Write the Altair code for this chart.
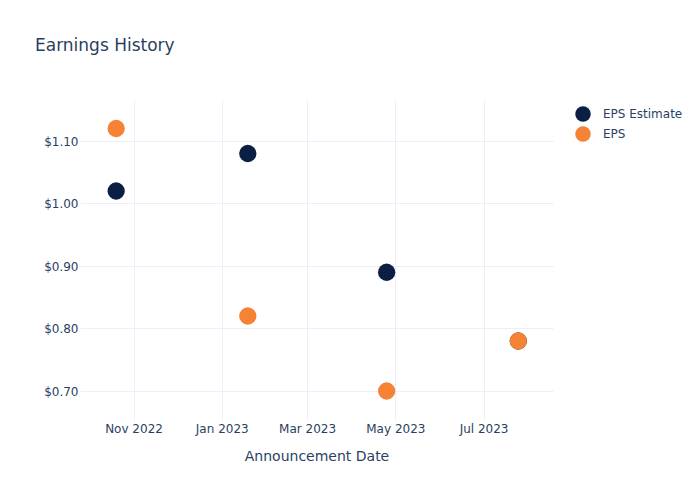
import altair as alt
import pandas as pd

dates = ["2022-10-20", "2023-01-19", "2023-04-25", "2023-07-25"]
eps_estimate = [1.02, 1.08, 0.89, 0.78]
eps_actual = [1.12, 0.82, 0.70, 0.78]
series_names = ["EPS Estimate", "EPS"]
colors = ["#0b1f44", "#f58235"]
x_ticks = ["2022-11-01", "2023-01-01", "2023-03-01", "2023-05-01", "2023-07-01"]
y_ticks = [0.7, 0.8, 0.9, 1.0, 1.1]

rows = []
for i, d in enumerate(dates):
    rows.append({"date": d, "series": series_names[0], "value": eps_estimate[i], "order": 0})
for i, d in enumerate(dates):
    rows.append({"date": d, "series": series_names[1], "value": eps_actual[i], "order": 1})
df = pd.DataFrame(rows)

font = "DejaVu Sans"
tc = "#2a3f5f"

chart = alt.Chart(df).mark_circle(size=300, opacity=1).encode(
    x=alt.X("date:T", title="Announcement Date",
            scale=alt.Scale(domain=["2022-09-25", "2023-08-18"]),
            axis=alt.Axis(values=x_ticks, format="%b %Y", labelFontSize=12,
                          titleFontSize=14, titleFontWeight="normal",
                          labelColor=tc, titleColor=tc, domain=False, ticks=False,
                          gridColor="#ebf0f8", labelPadding=3, titlePadding=15,
                          labelFont=font, titleFont=font)),
    y=alt.Y("value:Q", title=None,
            scale=alt.Scale(domain=[0.6536, 1.1656], nice=False, zero=False),
            axis=alt.Axis(values=y_ticks, format="$.2f", labelFontSize=12,
                          labelColor=tc, domain=False, ticks=False,
                          gridColor="#ebf0f8", labelPadding=2, labelFont=font)),
    color=alt.Color("series:N", scale=alt.Scale(domain=series_names, range=colors),
                    legend=alt.Legend(title=None, orient="none", legendX=495, legendY=6,
                                      symbolSize=240, symbolType="circle",
                                      labelFontSize=12, labelColor=tc, labelFont=font,
                                      labelOffset=12, rowPadding=4, symbolStrokeWidth=0)),
    order=alt.Order("order:Q"),
).properties(
    width=473, height=320,
    title=alt.TitleParams("Earnings History", anchor="start", frame="group", dx=-45,
                          offset=45, fontSize=17, fontWeight="normal", color=tc, font=font),
    padding={"left": 80, "top": 100, "right": 147, "bottom": 80},
    autosize=alt.AutoSizeParams(type="none"),
).configure_view(stroke=None)

chart.save("out.html", embed_options={"renderer": "svg", "actions": False})
